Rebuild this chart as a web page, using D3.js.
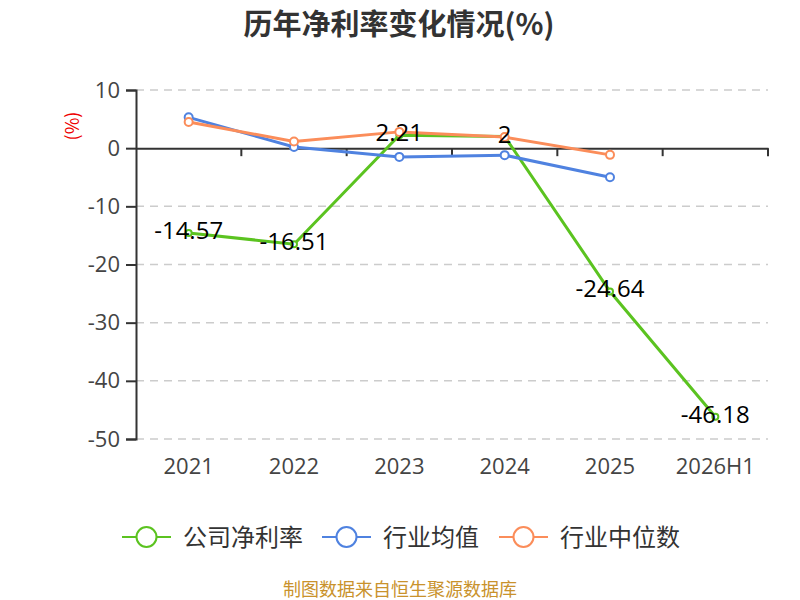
<!DOCTYPE html>
<html>
<head>
<meta charset="utf-8" />
<title>历年净利率变化情况</title>
<script src="https://cdn.jsdelivr.net/npm/d3@7"></script>
<style>
  body { margin: 0; background: #fff; }
  text { font-family: "Noto Sans CJK SC", "Noto Sans", sans-serif; }
</style>
</head>
<body>
<svg width="800" height="600"></svg>
<script>
// data
var years = ['2021', '2022', '2023', '2024', '2025', '2026H1']
var company = [-14.57, -16.51, 2.21, 2, -24.64, -46.18]
var indAvg = [5.3, 0.2, -1.5, -1.2, -5.0]
var indMid = [4.5, 1.15, 2.8, 1.9, -1.15]
var yTicks = [10, 0, -10, -20, -30, -40, -50]
var seriesNames = ['公司净利率', '行业均值', '行业中位数']
var colors = ['#5bc320', '#4f82e0', '#fb8d5a']

var svg = d3.select('svg')
var marge = {top: 90, left: 136, right: 32, bottom: 161}
var width = 800 - marge.left - marge.right
var height = 600 - marge.top - marge.bottom
var numFont = '"Open Sans", "Noto Sans", sans-serif'

var g = svg.append('g').attr('transform', `translate(${marge.left},${marge.top})`)

var xScale = d3.scaleBand().domain(years).range([0, width])
var yScale = d3.scaleLinear().domain([-50, 10]).range([height, 0])

// title
svg.append('text')
  .attr('x', 399).attr('y', 35)
  .attr('text-anchor', 'middle')
  .attr('font-size', 29).attr('font-weight', 'bold')
  .attr('fill', '#333')
  .text('历年净利率变化情况(%)')

// unit label
svg.append('text')
  .attr('transform', 'translate(79,126) rotate(-90)')
  .attr('text-anchor', 'middle')
  .attr('font-size', 18).attr('fill', '#e00')
  .text('(%)')

// grid lines
g.append('g').selectAll('line')
  .data(yTicks.filter(d => d !== 0))
  .enter().append('line')
  .attr('x1', 0).attr('x2', width)
  .attr('y1', d => yScale(d)).attr('y2', d => yScale(d))
  .attr('stroke', '#ccc').attr('stroke-width', 1.5)
  .attr('stroke-dasharray', '8,6')

// y axis
var yAxis = g.append('g')
  .call(d3.axisLeft(yScale).tickValues(yTicks).tickSize(10).tickPadding(6).tickFormat(d => String(d)))
yAxis.select('.domain').attr('stroke', '#333').attr('stroke-width', 2)
yAxis.selectAll('.tick line').attr('stroke', '#333').attr('stroke-width', 2)
yAxis.selectAll('.tick text').attr('font-size', 22).attr('fill', '#444')
  .style('font-family', numFont)

// x axis at zero
var xAxis = g.append('g')
  .attr('transform', `translate(0,${yScale(0)})`)
  .call(d3.axisBottom(xScale).tickSize(0).tickFormat(''))
xAxis.select('.domain').attr('stroke', '#333').attr('stroke-width', 2)
g.append('g').selectAll('line')
  .data(years.map((d, i) => i + 1))
  .enter().append('line')
  .attr('x1', i => i * xScale.step()).attr('x2', i => i * xScale.step())
  .attr('y1', yScale(0)).attr('y2', yScale(0) + 8)
  .attr('stroke', '#333').attr('stroke-width', 2)

// category labels under the chart
g.append('g').selectAll('text')
  .data(years)
  .enter().append('text')
  .attr('x', d => xScale(d) + xScale.bandwidth() / 2)
  .attr('y', height + 35)
  .attr('text-anchor', 'middle')
  .attr('font-size', 22).attr('fill', '#444')
  .style('font-family', numFont)
  .text(d => d)

var line = d3.line()
  .x((d, i) => xScale(years[i]) + xScale.bandwidth() / 2)
  .y(d => yScale(d))

var series = [company, indAvg, indMid]
var radius = [3, 4, 4]
series.forEach(function (data, s) {
  g.append('path')
    .datum(data)
    .attr('d', line)
    .attr('fill', 'none')
    .attr('stroke', colors[s])
    .attr('stroke-width', 3)
  g.append('g').selectAll('circle')
    .data(data)
    .enter().append('circle')
    .attr('cx', (d, i) => xScale(years[i]) + xScale.bandwidth() / 2)
    .attr('cy', d => yScale(d))
    .attr('r', radius[s])
    .attr('fill', '#fff')
    .attr('stroke', colors[s])
    .attr('stroke-width', 2)
})

// value labels for the company series
g.append('g').selectAll('text')
  .data(company)
  .enter().append('text')
  .attr('x', (d, i) => xScale(years[i]) + xScale.bandwidth() / 2)
  .attr('y', d => yScale(d) + 6)
  .attr('text-anchor', 'middle')
  .attr('font-size', 24).attr('fill', '#000')
  .style('font-family', numFont)
  .text(d => d)

// legend
var legendX = [122, 322, 499]
var lg = svg.append('g').selectAll('g')
  .data(seriesNames)
  .enter().append('g')
  .attr('transform', (d, i) => `translate(${legendX[i]},537)`)
lg.append('line')
  .attr('x1', 0).attr('x2', 49)
  .attr('stroke', (d, i) => colors[i]).attr('stroke-width', 2)
lg.append('circle')
  .attr('cx', 24.5).attr('r', 10)
  .attr('fill', '#fff')
  .attr('stroke', (d, i) => colors[i]).attr('stroke-width', 2)
lg.append('text')
  .attr('x', 61).attr('y', 9)
  .attr('font-size', 24).attr('fill', '#333')
  .text(d => d)

// footer
svg.append('text')
  .attr('x', 400).attr('y', 596)
  .attr('text-anchor', 'middle')
  .attr('font-size', 18).attr('fill', '#c9922c')
  .text('制图数据来自恒生聚源数据库')
</script>
</body>
</html>
